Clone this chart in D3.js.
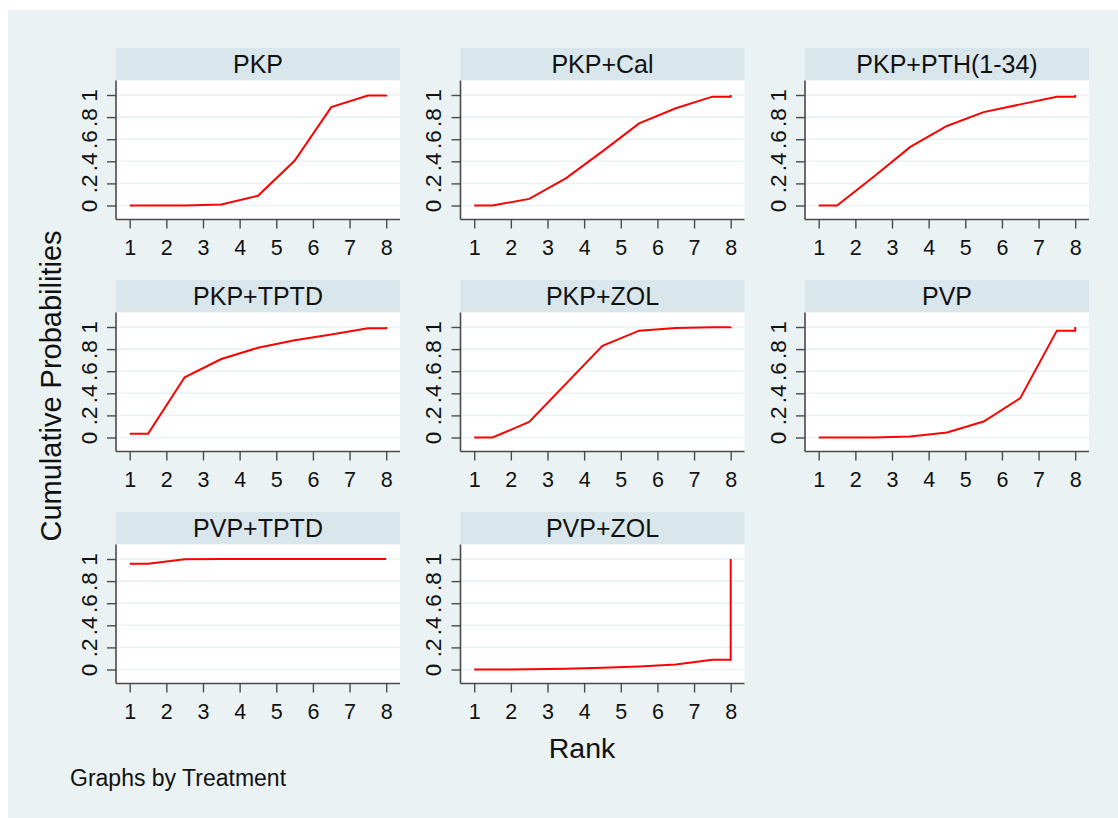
<!DOCTYPE html>
<html>
<head>
<meta charset="utf-8">
<script src="https://cdn.jsdelivr.net/npm/d3@7"></script>
<style>
html,body{margin:0;padding:0;background:#fff;}
svg{display:block;font-family:"Liberation Sans",Arial,sans-serif;}
</style>
</head>
<body>
<svg id="chart" width="1118" height="818"></svg>
<script>
// ---- data ----
const treatments = ["PKP","PKP+Cal","PKP+PTH(1-34)","PKP+TPTD","PKP+ZOL","PVP","PVP+TPTD","PVP+ZOL"];
const rankTicks = [1,2,3,4,5,6,7,8];
const probTicks = [0,0.2,0.4,0.6,0.8,1];
const probTickLabels = ["0",".2",".4",".6",".8","1"];
const plotRanks = [1,1.5,2.5,3.5,4.5,5.5,6.5,7.5,8,8];
const cumPKP      = [0,0,0,0.01,0.088,0.405,0.89,0.995,0.995,1];
const cumPKPCal   = [0,0,0.06,0.245,0.49,0.743,0.88,0.985,0.985,1];
const cumPKPPTH   = [0,0,0.26,0.53,0.72,0.845,0.915,0.985,0.985,1];
const cumPKPTPTD  = [0.033,0.033,0.545,0.71,0.812,0.88,0.933,0.988,0.988,1];
const cumPKPZOL   = [0,0,0.14,0.485,0.83,0.967,0.99,0.998,0.998,1];
const cumPVP      = [0,0,0,0.01,0.045,0.145,0.356,0.967,0.967,1];
const cumPVPTPTD  = [0.958,0.958,0.997,0.999,1,1,1,1,1,1];
const cumPVPZOL   = [0,0,0.002,0.006,0.015,0.027,0.045,0.088,0.088,1];
const seriesList = [cumPKP,cumPKPCal,cumPKPPTH,cumPKPTPTD,cumPKPZOL,cumPVP,cumPVPTPTD,cumPVPZOL];

// ---- layout ----
const svg = d3.select("#chart");
const bg = "#eaf2f3", headFill = "#d9e6eb", axisCol = "#4a4a4a";
svg.append("rect").attr("x",8).attr("y",10).attr("width",1110).attr("height",808).attr("fill",bg);

const colLeft = [116, 460.5, 805];
const rowTop = [48, 280, 512];
const panelW = 284, headH = 32.5, plotH = 139;

treatments.forEach((t,i)=>{
  const c = i % 3, r = Math.floor(i/3);
  const left = colLeft[c], top = rowTop[r];
  const pTop = top + headH, pBot = pTop + plotH;
  const x = d3.scaleLinear().domain([1,8]).range([left+13.7, left+270.2]);
  const y = d3.scaleLinear().domain([0,1]).range([pBot-14, pTop+14.5]);
  const g = svg.append("g");
  // header
  g.append("rect").attr("x",left).attr("y",top).attr("width",panelW).attr("height",headH).attr("fill",headFill);
  g.append("text").attr("x",left+panelW/2).attr("y",top+headH/2+9)
    .attr("text-anchor","middle").attr("font-size",25).attr("fill","#111").text(t);
  // plot region
  g.append("rect").attr("x",left).attr("y",pTop).attr("width",panelW).attr("height",plotH).attr("fill","#fff");
  // grid
  g.selectAll(".grid").data(probTicks).enter().append("line")
    .attr("x1",left).attr("x2",left+panelW)
    .attr("y1",d=>y(d)).attr("y2",d=>y(d))
    .attr("stroke",bg).attr("stroke-width",1.6);
  // line
  const pts = plotRanks.map((rk,j)=>[rk, seriesList[i][j]]);
  g.append("path").datum(pts)
    .attr("d", d3.line().x(d=>x(d[0])).y(d=>y(d[1])))
    .attr("fill","none").attr("stroke","#ff0000").attr("stroke-width",2);
  // y axis
  const ya = g.append("g").attr("transform",`translate(${left},0)`)
    .call(d3.axisLeft(y).tickValues(probTicks).tickSize(9).tickSizeOuter(0).tickFormat((d,k)=>probTickLabels[k]));
  ya.select(".domain").attr("stroke",axisCol).attr("stroke-width",1.6).attr("d",`M0,${pTop}V${pBot}`);
  ya.selectAll(".tick line").attr("stroke",axisCol).attr("stroke-width",1.4);
  ya.selectAll(".tick text").attr("font-size",22.5).attr("fill","#111")
    .attr("x",null).attr("dy",null).attr("text-anchor","middle")
    .attr("transform","translate(-19.5,0) rotate(-90)");
  // x axis
  const xa = g.append("g").attr("transform",`translate(0,${pBot})`)
    .call(d3.axisBottom(x).tickValues(rankTicks).tickSize(9).tickSizeOuter(0).tickFormat(d3.format("d")));
  xa.select(".domain").attr("stroke",axisCol).attr("stroke-width",1.6).attr("d",`M${left},0H${left+panelW}`);
  xa.selectAll(".tick line").attr("stroke",axisCol).attr("stroke-width",1.4);
  xa.selectAll(".tick text").attr("font-size",21.5).attr("fill","#111").attr("dy",null).attr("y",35);
});

svg.selectAll(".tick text").attr("font-family","\"Liberation Sans\",Arial,sans-serif");

// axis titles
svg.append("text").attr("transform","translate(61,386) rotate(-90)")
  .attr("text-anchor","middle").attr("font-size",29).attr("fill","#111").text("Cumulative Probabilities");
svg.append("text").attr("x",582).attr("y",758)
  .attr("text-anchor","middle").attr("font-size",28.5).attr("fill","#111").text("Rank");
svg.append("text").attr("x",70).attr("y",786)
  .attr("font-size",23).attr("fill","#111").text("Graphs by Treatment");
</script>
</body>
</html>
